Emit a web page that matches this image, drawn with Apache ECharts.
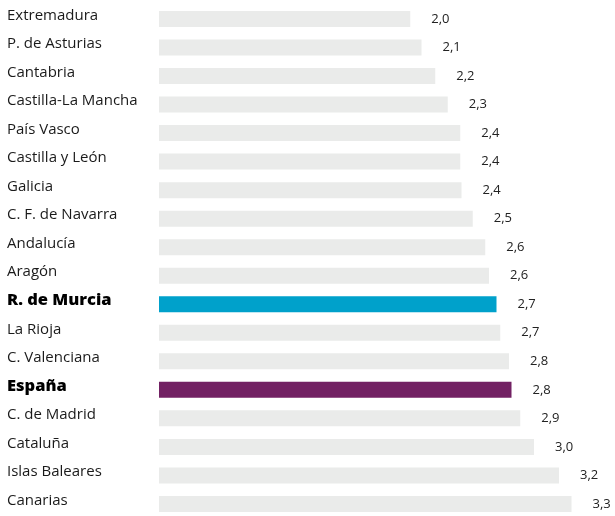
<!DOCTYPE html>
<html>
<head>
<meta charset="utf-8">
<script src="https://cdn.jsdelivr.net/npm/echarts@6/dist/echarts.min.js"></script>
<style>html,body{margin:0;padding:0;background:#fff}#c{width:615px;height:516px}</style>
</head>
<body>
<div id="c"></div>
<script>
var categories = ["Extremadura","P. de Asturias","Cantabria","Castilla-La Mancha","País Vasco","Castilla y León","Galicia","C. F. de Navarra","Andalucía","Aragón","R. de Murcia","La Rioja","C. Valenciana","España","C. de Madrid","Cataluña","Islas Baleares","Canarias"];
var values = [2.01,2.10,2.21,2.31,2.41,2.41,2.42,2.51,2.61,2.64,2.70,2.73,2.80,2.82,2.89,3.00,3.20,3.30];
var highlighted = {"R. de Murcia":"#00a1cb","España":"#722163"};

var chart = echarts.init(document.getElementById('c'), null, {renderer:'canvas'});
var font = "'Open Sans', 'Noto Sans', sans-serif";
chart.setOption({
  animation:false,
  grid:{left:159, top:4.7, width:450, height:513.5, containLabel:false, outerBoundsMode:'none'},
  xAxis:{type:'value', min:0, max:3.6, show:false},
  yAxis:{type:'category', inverse:true, data:categories,
    axisLine:{show:false}, axisTick:{show:false}, splitLine:{show:false},
    axisLabel:{align:'left', margin:152, fontFamily:font, fontSize:15, color:'#1a1a1a',
      formatter:function(v){ return highlighted[v] ? '{b|' + v + '}' : '{n|' + v + '}'; },
      rich:{
        n:{fontFamily:font, fontSize:15, color:'#1a1a1a', padding:[0,0,7,0]},
        b:{fontFamily:font, fontSize:16.5, fontWeight:800, color:'#000', padding:[0,0,7,0]}
      }
    }
  },
  series:[{
    type:'bar', barWidth:16,
    data:values.map(function(v,i){
      var c = highlighted[categories[i]];
      return {value:v, itemStyle:{color: c || '#eaebea'}};
    }),
    label:{show:true, position:'right', distance:21, fontFamily:font, fontSize:13, color:'#222',
      formatter:function(p){return p.value.toFixed(1).replace('.',',');}}
  }]
});
</script>
</body>
</html>
